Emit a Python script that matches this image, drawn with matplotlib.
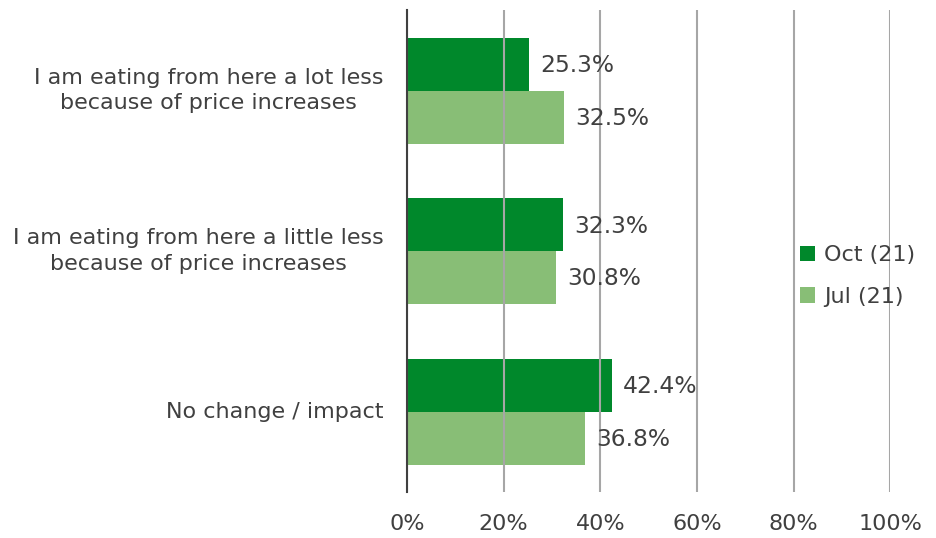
import numpy as np
import matplotlib.pyplot as plt

# survey answers, top to bottom
categories = ['I am eating from here a lot less\nbecause of price increases',
              'I am eating from here a little less\nbecause of price increases',
              'No change / impact']
oct_21 = [25.3, 32.3, 42.4]
jul_21 = [32.5, 30.8, 36.8]
series_names = ['Oct (21)', 'Jul (21)']

dark_green = '#00882B'
light_green = '#88BE76'
text_col = '#404040'

plt.rcParams['font.family'] = 'DejaVu Sans'
plt.rcParams['font.size'] = 16

fig = plt.figure(figsize=(9.37, 5.38), dpi=100)
ax = fig.add_axes([0.4344, 0.0855, 0.5156, 0.8955])

y = np.arange(len(categories))
h = 0.33
b1 = ax.barh(y - h / 2, oct_21, height=h, color=dark_green, label=series_names[0], zorder=2)
b2 = ax.barh(y + h / 2, jul_21, height=h, color=light_green, label=series_names[1], zorder=2)

for bars, vals in [(b1, oct_21), (b2, jul_21)]:
    for bar, v in zip(bars, vals):
        ax.annotate(f'{v:.1f}%', (v, bar.get_y() + bar.get_height() / 2),
                    xytext=(8, -1), textcoords='offset points', fontsize=16.8,
                    va='center', ha='left', color=text_col, zorder=4)

ax.set_xlim(0, 100)
ax.set_ylim(2.5, -0.5)
ax.set_xticks(np.arange(0, 101, 20))
ax.set_xticklabels([f'{t}%' for t in range(0, 101, 20)], color=text_col)
ax.set_yticks(y)
ax.set_yticklabels(categories, color=text_col, va='center')
for lab in ax.get_yticklabels():
    lab.set_multialignment('center')
    lab.set_linespacing(1.37)

ax.tick_params(axis='x', length=0, pad=16)
ax.tick_params(axis='y', length=0, pad=17)
ax.grid(axis='x', color='#A6A6A6', linewidth=1.5, zorder=3)
ax.set_axisbelow(False)
for s in ['top', 'right', 'bottom']:
    ax.spines[s].set_visible(False)
ax.spines['left'].set_color('#404040')
ax.spines['left'].set_linewidth(1.5)
ax.spines['left'].set_zorder(5)

leg = fig.legend(loc='center left', bbox_to_anchor=(0.832, 0.487), frameon=False,
                 handlelength=0.7, handleheight=0.7, handletextpad=0.4,
                 labelspacing=0.95, labelcolor=text_col)

fig.savefig('out.png', dpi=100)
